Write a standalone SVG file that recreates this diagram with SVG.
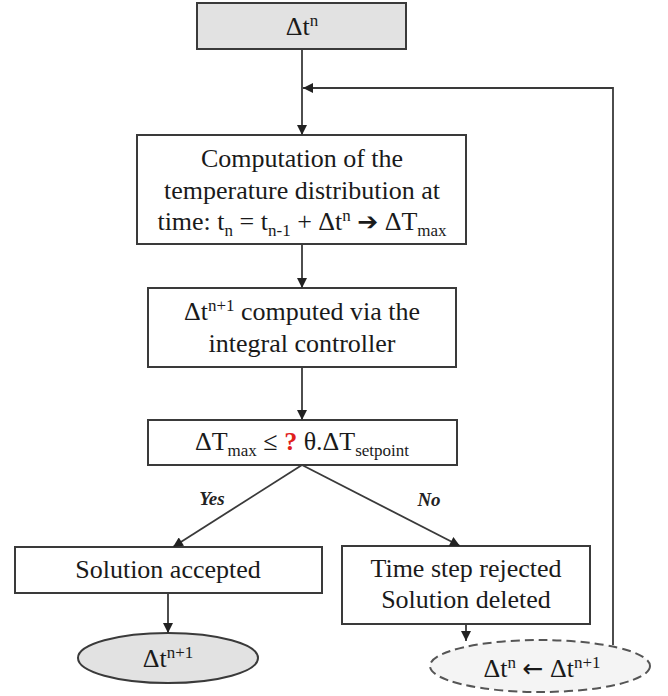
<svg xmlns="http://www.w3.org/2000/svg" width="668" height="696" viewBox="0 0 668 696">
  <defs>
    <marker id="arrow" viewBox="0 0 10 10" refX="10" refY="5" markerWidth="11" markerHeight="10" markerUnits="userSpaceOnUse" orient="auto">
      <path d="M0,0 L10,5 L0,10 Z" fill="#222"/>
    </marker>
  </defs>
  <style>
    .box { fill: #ffffff; stroke: #3a3a3a; stroke-width: 2; }
    .shaded { fill: #e2e2e2; stroke: #3a3a3a; stroke-width: 2; }
    .dashed { fill: #f4f4f4; stroke: #555; stroke-width: 2; stroke-dasharray: 9 5; }
    .t { font-size: 26px; fill: #1a1a1a; text-anchor: middle; }
    .sm { font-size: 17px; }
    .lbl { font-size: 19px; font-style: italic; font-weight: bold; fill: #222; text-anchor: middle; }
    .q { fill: #e0201c; font-weight: bold; }
    .sym { font-family: "DejaVu Sans", sans-serif; font-size: 25px; }
    .edge { fill: none; stroke: #3a3a3a; stroke-width: 1.8; }
  </style>
  <rect width="668" height="696" fill="#ffffff"/>

  <g font-family="Liberation Serif, DejaVu Serif, serif">
  <g id="start">
    <rect class="shaded" x="197" y="3" width="209" height="46"/>
    <text class="t" x="302" y="35">Δt<tspan class="sm" dy="-9">n</tspan></text>
  </g>

  <g id="compute">
    <rect class="box" x="137" y="135" width="329" height="109"/>
    <text class="t" x="302" y="167">Computation of the</text>
    <text class="t" x="302" y="199">temperature distribution at</text>
    <text class="t" x="302" y="230">time: t<tspan class="sm" dy="6">n</tspan><tspan dy="-6"> = t</tspan><tspan class="sm" dy="6">n-1</tspan><tspan dy="-6"> + Δt</tspan><tspan class="sm" dy="-9">n</tspan><tspan dy="9"> </tspan><tspan class="sym">➔</tspan><tspan> ΔT</tspan><tspan class="sm" dy="6">max</tspan></text>
  </g>

  <g id="controller">
    <rect class="box" x="148" y="288" width="308" height="79"/>
    <text class="t" x="302" y="320">Δt<tspan class="sm" dy="-9">n+1</tspan><tspan dy="9"> computed via the</tspan></text>
    <text class="t" x="302" y="352">integral controller</text>
  </g>

  <g id="check">
    <rect class="box" x="148" y="420" width="309" height="45"/>
    <text class="t" x="302" y="450">ΔT<tspan class="sm" dy="6">max</tspan><tspan dy="-6"> ≤ </tspan><tspan class="q">?</tspan><tspan> θ.ΔT</tspan><tspan class="sm" dy="6">setpoint</tspan></text>
  </g>

  <g id="accepted">
    <rect class="box" x="15" y="547" width="307" height="46"/>
    <text class="t" x="168" y="578">Solution accepted</text>
  </g>

  <g id="rejected">
    <rect class="box" x="342" y="546" width="248" height="78"/>
    <text class="t" x="466" y="577">Time step rejected</text>
    <text class="t" x="466" y="608">Solution deleted</text>
  </g>

  <g id="next-step">
    <ellipse class="shaded" cx="168" cy="658" rx="90" ry="25"/>
    <text class="t" x="168" y="667">Δt<tspan class="sm" dy="-9">n+1</tspan></text>
  </g>

  <g id="retry">
    <ellipse class="dashed" cx="540" cy="666" rx="110" ry="26"/>
    <text class="t" x="542" y="677">Δt<tspan class="sm" dy="-9">n</tspan><tspan dy="9"> </tspan><tspan class="sym">←</tspan><tspan> Δt</tspan><tspan class="sm" dy="-9">n+1</tspan></text>
  </g>

  <g id="connectors">
    <line class="edge" x1="302" y1="49" x2="302" y2="135" marker-end="url(#arrow)"/>
    <line class="edge" x1="302" y1="244" x2="302" y2="288" marker-end="url(#arrow)"/>
    <line class="edge" x1="302" y1="367" x2="302" y2="420" marker-end="url(#arrow)"/>
    <line class="edge" x1="302" y1="465" x2="173" y2="547" marker-end="url(#arrow)"/>
    <line class="edge" x1="302" y1="465" x2="460" y2="546" marker-end="url(#arrow)"/>
    <line class="edge" x1="168" y1="593" x2="168" y2="633" marker-end="url(#arrow)"/>
    <line class="edge" x1="466" y1="624" x2="466" y2="641" marker-end="url(#arrow)"/>
    <polyline class="edge" points="613,645 613,88 303,88" marker-end="url(#arrow)"/>
    <text class="lbl" x="212" y="505">Yes</text>
    <text class="lbl" x="429" y="506">No</text>
  </g>
  </g>
</svg>
